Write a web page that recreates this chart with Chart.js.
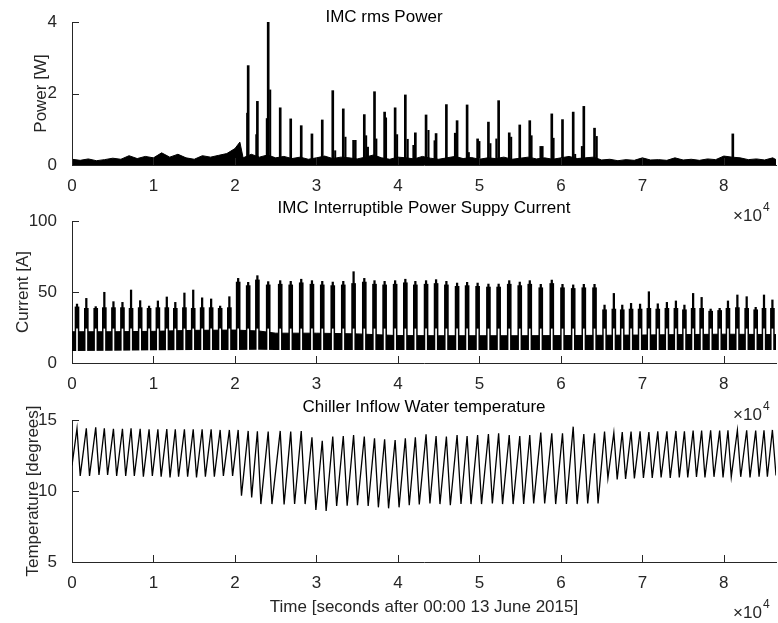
<!DOCTYPE html>
<html>
<head>
<meta charset="utf-8">
<script src="https://cdn.jsdelivr.net/npm/chart.js@4.4.0/dist/chart.umd.min.js"></script>
<style>
  body { margin: 0; background: #fff; }
  #fig { position: relative; width: 778px; height: 623px; overflow: hidden; }
  #fig canvas { position: absolute; left: 0; }
</style>
</head>
<body>
<div id="fig">
  <canvas id="power" width="778" height="235" style="top:0px"></canvas>
  <canvas id="current" width="778" height="235" style="top:195px"></canvas>
  <canvas id="temp" width="778" height="228" style="top:395px"></canvas>
</div>
<script>
// x axis (seconds after midnight)
const xTickValues = [0, 10000, 20000, 30000, 40000, 50000, 60000, 70000, 80000];
const xTickLabels = ['0', '1', '2', '3', '4', '5', '6', '7', '8'];

// chiller cycle start times (temperature peaks / current pulses)
const cycleTimes = [614, 1757, 2912, 3968, 5086, 6192, 7248, 8366, 9459, 10541, 11634, 12678, 13796, 14877,
  15971, 17076, 18182, 19312, 20393, 21622, 22752, 24079,
  25553, 26843, 28133, 29448, 30713, 32003, 33293, 34559, 35873, 37126, 38367, 39657, 40910, 42139,
  43453, 44682, 45947, 47261, 48490, 49780, 51107, 52360, 53662, 54952, 56181,
  57532, 58883, 60197, 61511, 62814, 64128,
  65357, 66499, 67531, 68612, 69718, 70799, 71892, 73010, 74116, 75160, 76229, 77273, 78379, 79485,
  80505, 81660, 82802, 83908, 84927, 85959];

// --- IMC rms Power ---
const noiseTimes = [0, 1000, 2000, 3000, 4000, 5000, 6000, 7000, 8000, 9000, 10000, 11000, 12000, 13000,
  14000, 15000, 16000, 17000, 18000, 19000, 20000, 20600, 21000, 22000, 23000, 24000, 25000, 26000,
  27000, 28000, 29000, 30000, 31000, 32000, 33000, 34000, 35000, 36000, 37000, 38000, 39000, 40000,
  41000, 42000, 43000, 44000, 45000, 46000, 47000, 48000, 49000, 50000, 51000, 52000, 53000, 54000,
  55000, 56000, 57000, 58000, 59000, 60000, 61000, 62000, 63000, 64000, 65000, 66000, 67000, 68000,
  69000, 70000, 71000, 72000, 73000, 74000, 75000, 76000, 77000, 78000, 79000, 80000, 81000, 82000,
  83000, 84000, 85000, 86000, 86400];
const noiseTop = [0.16, 0.13, 0.17, 0.12, 0.15, 0.19, 0.16, 0.26, 0.18, 0.24, 0.2, 0.34, 0.22, 0.3,
  0.2, 0.16, 0.26, 0.22, 0.27, 0.32, 0.46, 0.64, 0.2, 0.3, 0.22, 0.28, 0.2, 0.24,
  0.18, 0.22, 0.16, 0.2, 0.25, 0.18, 0.22, 0.2, 0.17, 0.22, 0.28, 0.2, 0.16, 0.22,
  0.2, 0.17, 0.24, 0.19, 0.16, 0.2, 0.24, 0.18, 0.21, 0.16, 0.2, 0.18, 0.22, 0.16,
  0.19, 0.22, 0.17, 0.2, 0.16, 0.2, 0.24, 0.18, 0.2, 0.22, 0.14, 0.16, 0.12, 0.15,
  0.13, 0.2, 0.14, 0.15, 0.13, 0.2, 0.14, 0.16, 0.13, 0.17, 0.15, 0.25, 0.22, 0.2,
  0.15, 0.17, 0.14, 0.2, 0.15];
const spikeTimes = [21622, 22752, 24079, 25553, 26843, 28133, 29448, 30713, 32003, 33293, 34559, 35873,
  37126, 38367, 39657, 40910, 42139, 43453, 44682, 45947, 47261, 48490, 49780, 51107, 52360, 53662,
  54952, 56181, 57532, 58883, 60197, 61511, 62814, 64128, 81100];
const spikeHeights = [2.78, 1.78, 4.0, 1.6, 1.29, 1.1, 0.87, 1.26, 2.08, 1.57, 0.69, 1.41,
  2.05, 1.48, 1.6, 1.96, 0.9, 1.4, 0.88, 1.69, 1.24, 1.68, 0.73, 1.2, 1.8, 0.9,
  1.12, 1.24, 0.52, 1.43, 1.27, 1.48, 1.64, 1.03, 0.87];
const spike2Times = [21500, 22620, 23910, 24325, 32300, 33560, 34800, 36100, 36320, 37350, 38540, 39900,
  41200, 41900, 43750, 44500, 47000, 48700, 50000, 51350, 52080, 53900, 56400, 57750, 59100, 61750,
  62580, 64400];
const spike2Heights = [1.45, 0.85, 1.3, 2.1, 0.4, 0.78, 0.69, 0.82, 0.5, 0.73, 1.32, 0.85,
  0.72, 0.55, 0.97, 0.68, 0.89, 0.35, 0.66, 0.6, 0.73, 0.78, 0.82, 0.52, 0.75, 0.3,
  0.52, 0.8];

// --- IMC Interruptible Power Suppy Current ---
const bandTimes = [0, 5000, 10000, 15000, 20000, 23000, 25000, 30000, 35000, 40000, 45000, 50000,
  55000, 60000, 65000, 70000, 75000, 80000, 86400];
const bandHigh = [22.0, 22.0, 22.3, 23.0, 23.2, 22.5, 21.0, 21.0, 20.5, 19.3, 19.2, 19.2,
  19.2, 19.3, 19.5, 19.7, 20.0, 20.3, 20.0];
const bandLow = [8.5, 8.7, 9.0, 9.2, 9.2, 9.4, 9.2, 9.2, 9.2, 9.2, 9.2, 9.2,
  9.2, 9.2, 9.2, 9.2, 9.2, 9.2, 9.2];
const pulsePeaks = [41.5, 45.5, 39.7, 49.8, 43.2, 42.7, 51.4, 43.9, 40.1, 43.7, 46.5, 42.7, 49.3, 51.4,
  45.9, 45.1, 40.1, 46.7, 59.6, 56.8, 61.5, 57.3,
  58.0, 57.5, 59.0, 58.0, 57.5, 57.0, 57.5, 64.3, 59.6, 58.0, 57.5, 58.0, 59.0, 57.5,
  58.0, 58.7, 57.5, 56.3, 56.8, 56.3, 55.6, 55.6, 58.0, 57.0, 58.0,
  55.4, 58.4, 55.4, 55.0, 55.4, 55.4,
  40.8, 49.0, 40.8, 42.0, 41.5, 50.2, 41.7, 42.7, 43.7, 40.8, 49.0, 46.2, 38.0, 38.5,
  43.7, 47.9, 46.7, 39.2, 47.9, 44.4];
const pulsePlateaus = [39.5, 38.5, 38.5, 39.0, 39.0, 39.0, 38.5, 39.0, 38.5, 39.0, 39.0, 38.5, 39.0, 38.5,
  39.0, 39.0, 38.5, 39.0, 57.0, 54.5, 58.5, 55.0,
  55.5, 55.0, 56.5, 55.5, 55.0, 54.5, 55.0, 56.0, 57.0, 55.5, 55.0, 55.5, 56.5, 55.0,
  55.5, 56.0, 55.0, 54.0, 54.5, 54.0, 53.5, 53.5, 55.5, 54.5, 55.5,
  53.0, 56.0, 53.0, 52.5, 53.0, 53.0,
  37.5, 38.0, 37.5, 38.0, 38.0, 38.5, 38.0, 38.5, 38.5, 37.5, 38.5, 38.5, 36.5, 37.0,
  38.5, 39.0, 38.5, 37.5, 38.5, 38.5];
const pulseBase = 18;
const gapRange = [7, 24];

// --- Chiller Inflow Water temperature ---
const tempEdgeTimes = [0, 86400];
const tempEdgeValues = [11.8, 11.1];
const tempPeaks = [14.41, 14.41, 14.48, 14.41, 14.38, 14.38, 14.41, 14.38, 14.34, 14.34, 14.36, 14.34, 14.34, 14.34,
  14.34, 14.34, 14.30, 14.30, 14.30, 14.23, 14.20, 14.18,
  14.23, 14.18, 14.23, 13.78, 13.54, 13.83, 13.87, 13.94, 13.83, 13.71, 13.64, 13.59, 13.71, 13.78,
  13.99, 13.87, 13.83, 13.94, 13.87, 13.94, 14.01, 14.06, 13.94, 13.87, 13.94,
  14.11, 14.06, 14.06, 14.53, 14.01, 14.06,
  14.18, 14.11, 14.15, 14.18, 14.20, 14.15, 14.20, 14.20, 14.23, 14.20, 14.25, 14.25, 14.28, 14.25,
  14.28, 14.28, 14.28, 14.25, 14.28, 14.30];
const troughTimes = [1010, 2150, 3310, 4370, 5480, 6590, 7650, 8760, 9860, 10940, 12030, 13080, 14190, 15280,
  16370, 17470, 18580, 19710, 20800, 22050, 23180, 24540,
  26030, 27320, 28610, 29930, 31190, 32480, 33770, 35040, 36350, 37600, 38850, 40140, 41390, 42620,
  43930, 45160, 46430, 47740, 48970, 50260, 51590, 52840, 54140, 55430,
  56660, 58010, 59360, 60680, 61990, 63290, 64560,
  65770, 66910, 67940, 69020, 70130, 71210, 72300, 73420, 74530, 75570, 76640, 77680, 78790, 79900,
  80910, 82070, 83210, 84320, 85340];
const tempTroughs = [11.06, 11.06, 11.13, 11.13, 11.06, 11.06, 11.06, 11.01, 11.06, 11.01, 10.96, 11.01, 11.01, 10.96,
  11.01, 11.01, 11.06, 11.06, 9.67, 9.55, 9.08, 9.08,
  9.06, 9.08, 9.08, 8.66, 8.59, 8.94, 8.96, 9.00, 8.94, 8.85, 8.78, 8.85, 9.00, 9.06,
  9.13, 9.08, 9.00, 9.08, 9.08, 9.08, 9.13, 9.08, 9.08, 9.08,
  9.13, 9.13, 9.08, 9.08, 9.08, 9.13, 9.13,
  10.89, 10.82, 10.85, 10.89, 10.92, 10.92, 10.96, 10.92, 10.96, 10.96, 10.99, 10.96, 11.00, 10.96,
  10.99, 11.00, 10.96, 11.00, 11.00];

const FONT = '"Liberation Sans", Arial, Helvetica, sans-serif';
const AXIS_COLOR = '#262626';

function pts(xs, ys) {
  return xs.map((x, i) => ({ x: x, y: ys[i] }));
}

function bars(xs, lows, highs) {
  return xs.map((x, i) => ({ x: x, y: [Array.isArray(lows) ? lows[i] : lows, Array.isArray(highs) ? highs[i] : highs] }));
}

function tempSeries() {
  const out = [{ x: tempEdgeTimes[0], y: tempEdgeValues[0] }];
  cycleTimes.forEach((t, i) => {
    out.push({ x: t, y: tempPeaks[i] });
    if (i < troughTimes.length) out.push({ x: troughTimes[i], y: tempTroughs[i] });
  });
  out.push({ x: tempEdgeTimes[1], y: tempEdgeValues[1] });
  return out;
}

// free text: titles, axis labels, x10^4 exponents
const figText = {
  id: 'figText',
  afterDraw(chart, args, opts) {
    const ctx = chart.ctx;
    (opts.items || []).forEach(item => {
      ctx.save();
      ctx.fillStyle = item.color || AXIS_COLOR;
      ctx.font = (item.size || 17) + 'px ' + FONT;
      ctx.translate(item.x, item.y);
      if (item.rotate) ctx.rotate(-Math.PI / 2);
      ctx.textAlign = item.align || 'center';
      ctx.textBaseline = 'middle';
      ctx.fillText(item.text, 0, 0);
      ctx.restore();
    });
  }
};

// MATLAB style ticks pointing into the axes
const innerTicks = {
  id: 'innerTicks',
  afterDraw(chart) {
    const ctx = chart.ctx, a = chart.chartArea;
    const xs = chart.scales.x, ys = chart.scales.y;
    ctx.save();
    ctx.strokeStyle = AXIS_COLOR;
    ctx.lineWidth = 1;
    ctx.beginPath();
    xs.ticks.forEach(t => {
      const px = Math.round(xs.getPixelForValue(t.value)) + 0.5;
      ctx.moveTo(px, a.bottom);
      ctx.lineTo(px, a.bottom - 7);
    });
    ys.ticks.forEach(t => {
      const py = Math.round(ys.getPixelForValue(t.value)) + 0.5;
      ctx.moveTo(a.left, py);
      ctx.lineTo(a.left + 7, py);
    });
    ctx.stroke();
    ctx.restore();
  }
};

function exponent(y) {
  return [
    { text: '\u00d7', x: 733, y: y, align: 'left' },
    { text: '10', x: 743, y: y, align: 'left' },
    { text: '4', x: 763, y: y - 8, align: 'left', size: 12 }
  ];
}

function makeOptions(cfg) {
  return {
    responsive: false,
    animation: false,
    events: [],
    layout: { padding: { top: cfg.top, right: 2, left: 0, bottom: 0 } },
    plugins: {
      legend: { display: false },
      tooltip: { enabled: false },
      figText: { items: cfg.texts }
    },
    scales: {
      x: {
        type: 'linear',
        min: 0,
        max: 86400,
        offset: false,
        grid: { display: false },
        border: { display: true, color: AXIS_COLOR, width: 1 },
        afterBuildTicks: s => { s.ticks = xTickValues.map(v => ({ value: v })); },
        ticks: {
          color: AXIS_COLOR,
          font: { family: FONT, size: 17 },
          padding: 3,
          maxRotation: 0,
          autoSkip: false,
          callback: (v, i) => xTickLabels[i]
        },
        afterFit: s => { s.height = cfg.height - cfg.bottom; }
      },
      y: {
        type: 'linear',
        min: cfg.yMin,
        max: cfg.yMax,
        grid: { display: false },
        border: { display: true, color: AXIS_COLOR, width: 1 },
        afterBuildTicks: s => { s.ticks = cfg.yTicks.map(v => ({ value: v })); },
        ticks: {
          color: AXIS_COLOR,
          font: { family: FONT, size: 17 },
          padding: 7,
          autoSkip: false,
          callback: v => String(v)
        },
        afterFit: s => { s.width = 72; }
      }
    }
  };
}

new Chart(document.getElementById('power'), {
  type: 'line',
  data: {
    datasets: [
      { type: 'bar', data: bars(spikeTimes, 0, spikeHeights), backgroundColor: '#000',
        barThickness: 2, grouped: false, borderWidth: 0, order: 0 },
      { type: 'bar', data: bars(spike2Times, 0, spike2Heights), backgroundColor: '#000',
        barThickness: 1.4, grouped: false, borderWidth: 0, order: 1 },
      { type: 'line', data: pts(noiseTimes, noiseTop), borderColor: '#000', backgroundColor: '#000',
        borderWidth: 1, pointRadius: 0, tension: 0, fill: 'origin', order: 2 }
    ]
  },
  options: makeOptions({
    top: 22, bottom: 165, height: 235, yMin: 0, yMax: 4, yTicks: [0, 2, 4],
    texts: [
      { text: 'IMC rms Power', x: 384, y: 17, color: '#000' },
      { text: 'Power [W]', x: 41.5, y: 93.5, rotate: true }
    ].concat(exponent(216))
  }),
  plugins: [figText, innerTicks]
});

new Chart(document.getElementById('current'), {
  type: 'line',
  data: {
    datasets: [
      { type: 'line', data: pts(bandTimes, bandLow), borderWidth: 0, borderColor: '#000',
        pointRadius: 0, tension: 0, fill: false, order: 4 },
      { type: 'line', data: pts(bandTimes, bandHigh), borderWidth: 1, borderColor: '#000',
        backgroundColor: '#000', pointRadius: 0, tension: 0, fill: '-1', order: 3 },
      { type: 'bar', data: bars(cycleTimes, pulseBase, pulsePlateaus), backgroundColor: '#000',
        barThickness: 4, grouped: false, borderWidth: 0, order: 2 },
      { type: 'bar', data: bars(cycleTimes, pulseBase, pulsePeaks), backgroundColor: '#000',
        barThickness: 1.6, grouped: false, borderWidth: 0, order: 1 },
      { type: 'bar', data: bars(cycleTimes, gapRange[0], gapRange[1]), backgroundColor: '#fff',
        barThickness: 1, grouped: false, borderWidth: 0, order: 0 }
    ]
  },
  options: makeOptions({
    top: 26, bottom: 168, height: 235, yMin: 0, yMax: 100, yTicks: [0, 50, 100],
    texts: [
      { text: 'IMC Interruptible Power Suppy Current', x: 424, y: 13, color: '#000' },
      { text: 'Current [A]', x: 23, y: 97, rotate: true }
    ].concat(exponent(220))
  }),
  plugins: [figText, innerTicks]
});

new Chart(document.getElementById('temp'), {
  type: 'line',
  data: {
    datasets: [
      { data: tempSeries(), borderColor: '#000', borderWidth: 1.3, pointRadius: 0, tension: 0, fill: false }
    ]
  },
  options: makeOptions({
    top: 25, bottom: 167, height: 228, yMin: 5, yMax: 15, yTicks: [5, 10, 15],
    texts: [
      { text: 'Chiller Inflow Water temperature', x: 424, y: 12, color: '#000' },
      { text: 'Temperature [degrees]', x: 33.5, y: 96, rotate: true },
      { text: 'Time [seconds after 00:00 13 June 2015]', x: 424, y: 212 }
    ].concat(exponent(218))
  }),
  plugins: [figText, innerTicks]
});
</script>
</body>
</html>
